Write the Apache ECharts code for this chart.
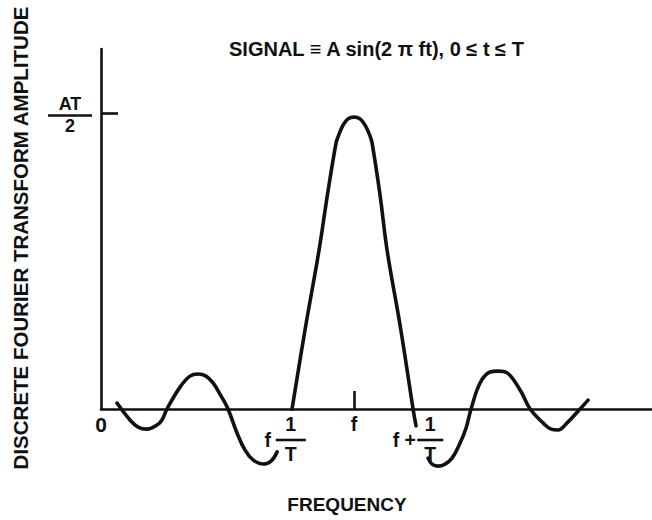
<!DOCTYPE html>
<html>
<head>
<meta charset="utf-8">
<script src="https://cdn.jsdelivr.net/npm/echarts@6/dist/echarts.min.js"></script>
<style>
html,body{margin:0;padding:0;background:#fff;}
#chart{width:652px;height:520px;}
</style>
</head>
<body>
<div id="chart"></div>
<script>
// ---- texts ----
const titleText = 'SIGNAL \u2261 A sin(2 \u03c0 ft), 0 \u2264 t \u2264 T';
const xAxisTitle = 'FREQUENCY';
const yAxisTitle = 'DISCRETE FOURIER TRANSFORM AMPLITUDE';

// ---- axis (x in units of 1/T, f = 4; y in units of AT/2) ----
const xMin = 0, xMax = 8.71;
const yMin = 0, yMax = 1.216;
const xLabelValues = [0, 3, 4, 5];          // 0, f-1/T, f, f+1/T
const xTickValues = [4];                    // tick at f
const yLabelValues = [1];                   // AT/2
const yTickValues = [1];

// ---- curve: [frequency, amplitude] ----
const leftLobes = [
  [0.253, 0.020], [0.458, -0.037], [0.585, -0.061], [0.727, -0.068], [0.885, -0.054],
  [0.964, -0.037], [1.043, 0], [1.249, 0.074], [1.407, 0.111], [1.534, 0.118],
  [1.660, 0.111], [1.771, 0.088], [1.897, 0.044], [2.008, 0], [2.150, -0.081],
  [2.277, -0.139], [2.403, -0.172], [2.561, -0.186], [2.688, -0.176], [2.783, -0.145]
];
const mainLobe = [
  [3.020, 0], [3.225, 0.267], [3.447, 0.537], [3.579, 0.723], [3.716, 0.899],
  [3.747, 0.919], [3.826, 0.959], [3.905, 0.980], [4.000, 0.986], [4.095, 0.980],
  [4.174, 0.959], [4.253, 0.922], [4.285, 0.899], [4.411, 0.723], [4.522, 0.537],
  [4.740, 0.267], [4.933, 0], [4.980, -0.057]
];
const rightLobes = [
  [5.170, -0.166], [5.233, -0.186], [5.328, -0.193], [5.439, -0.186], [5.549, -0.166],
  [5.676, -0.115], [5.771, -0.064], [5.850, 0], [5.992, 0.088], [6.150, 0.125],
  [6.277, 0.128], [6.419, 0.122], [6.625, 0.064], [6.783, 0], [6.988, -0.047],
  [7.115, -0.068], [7.225, -0.071], [7.368, -0.047], [7.573, 0], [7.700, 0.030]
];

const INK = '#111';
const FONT = '"Liberation Sans", Arial, Helvetica, sans-serif';

function near(a, b) { return Math.abs(a - b) < 1e-6; }

const chart = echarts.init(document.getElementById('chart'), null, {renderer: 'svg'});

const lineSeries = (data) => ({
  type: 'line',
  data: data,
  smooth: 0.4,
  symbol: 'none',
  clip: false,
  silent: true,
  lineStyle: {color: INK, width: 3.6, cap: 'round', join: 'round'}
});

const txt = {fontFamily: FONT, fontWeight: 'bold', fontSize: 19.5, color: INK};
const ytxt = {fontFamily: FONT, fontWeight: 'bold', fontSize: 18, color: INK};

chart.setOption({
  backgroundColor: '#fff',
  animation: false,
  grid: {left: 101, right: 0, top: 49, bottom: 111, containLabel: false},
  xAxis: {
    type: 'value', min: xMin, max: xMax,
    axisLine: {show: true, onZero: true, lineStyle: {color: INK, width: 2.6}},
    splitLine: {show: false},
    axisTick: {show: true, inside: true, length: 18, customValues: xTickValues,
               lineStyle: {color: INK, width: 2.6}},
    axisLabel: {
      show: true, margin: 4, customValues: xLabelValues,
      formatter: function (v) {
        if (near(v, xLabelValues[0])) return '{z|0}';
        if (near(v, xLabelValues[2])) return '{n|f}';
        if (near(v, xLabelValues[1])) return '{p|}{n30|1}{p|}\n{fl|f}{bar30|}{p|}\n{p|}{nb30|T}{p|}';
        if (near(v, xLabelValues[3])) return '{p26|}{n26|1}\n{fp|f +}{bar26|}\n{p26|}{nb26|T}';
        return '';
      },
      rich: {
        z:    Object.assign({}, txt, {fontSize: 21, lineHeight: 22}),
        n:    Object.assign({}, txt, {lineHeight: 21}),
        n30:  Object.assign({}, txt, {lineHeight: 21, width: 30}),
        nb30: Object.assign({}, txt, {lineHeight: 16, width: 30}),
        n26:  Object.assign({}, txt, {lineHeight: 21, width: 26}),
        nb26: Object.assign({}, txt, {lineHeight: 16, width: 26}),
        p:    {width: 16, lineHeight: 1, fontSize: 1},
        p26:  {width: 26, lineHeight: 1, fontSize: 1},
        fl:   Object.assign({}, txt, {lineHeight: 12, width: 16}),
        fp:   Object.assign({}, txt, {lineHeight: 12, width: 26}),
        bar30:{width: 30, height: 2.6, lineHeight: 12, backgroundColor: INK, fontSize: 1},
        bar26:{width: 26, height: 2.6, lineHeight: 12, backgroundColor: INK, fontSize: 1}
      }
    }
  },
  yAxis: {
    type: 'value', min: yMin, max: yMax,
    axisLine: {show: true, lineStyle: {color: INK, width: 2.6}},
    splitLine: {show: false},
    axisTick: {show: true, inside: true, length: 17, customValues: yTickValues,
               lineStyle: {color: INK, width: 2.6}},
    axisLabel: {
      show: true, margin: 9, customValues: yLabelValues,
      padding: [5, 0, 0, 0],
      formatter: function () { return '{a|AT}\n{ybar|}\n{a|2}'; },
      rich: {
        a: Object.assign({}, ytxt, {lineHeight: 16, width: 44, align: 'center'}),
        ybar: {width: 44, height: 2.6, lineHeight: 6, backgroundColor: INK, fontSize: 1}
      }
    }
  },
  graphic: [
    {type: 'text', x: 229, y: 48.5, silent: true,
     style: {text: titleText, font: 'bold 20px ' + FONT, fill: INK, align: 'left', verticalAlign: 'middle'}},
    {type: 'text', x: 347, y: 504, silent: true,
     style: {text: xAxisTitle, font: 'bold 19px ' + FONT, fill: INK, align: 'center', verticalAlign: 'middle'}},
    {type: 'text', x: 20, y: 238, rotation: Math.PI / 2, silent: true,
     style: {text: yAxisTitle, font: 'bold 20.5px ' + FONT, fill: INK, align: 'center', verticalAlign: 'middle'}}
  ],
  series: [lineSeries(leftLobes), lineSeries(mainLobe), lineSeries(rightLobes)]
});
</script>
</body>
</html>
